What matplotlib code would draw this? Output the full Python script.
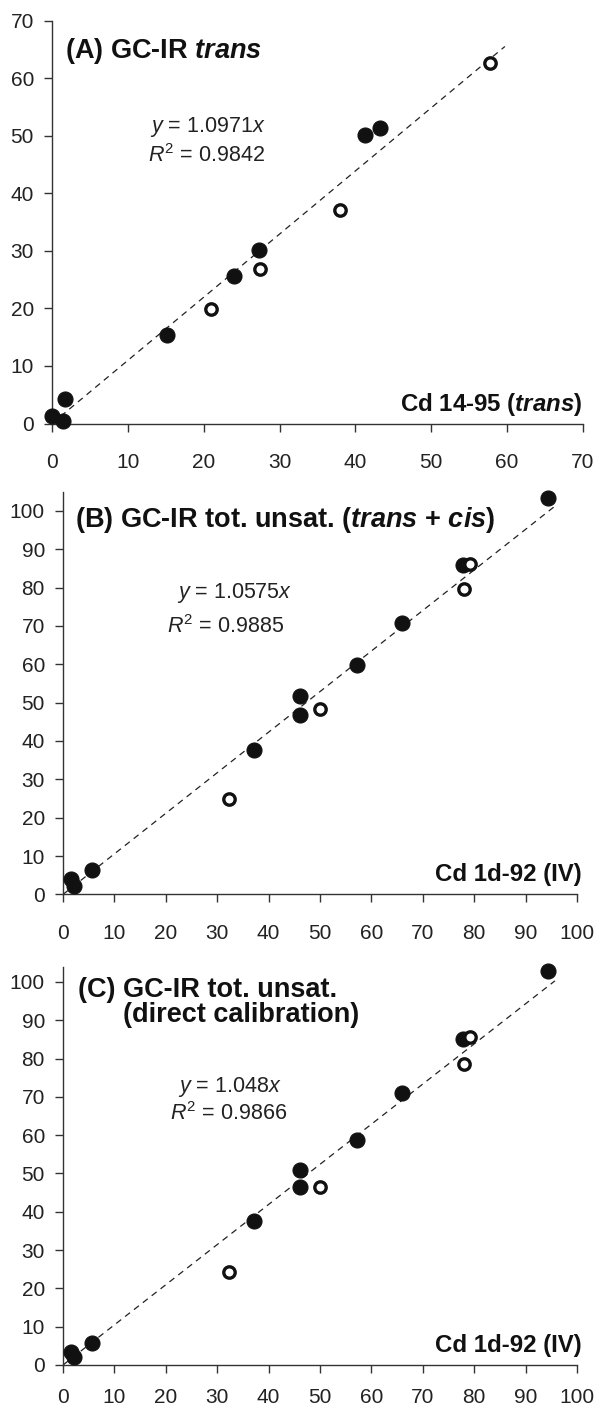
import matplotlib
matplotlib.use("Agg")
from matplotlib import pyplot as plt

plt.rcParams['font.family'] = ['Liberation Sans', 'DejaVu Sans']
plt.rcParams['mathtext.fontset'] = 'custom'
plt.rcParams['mathtext.rm'] = 'Liberation Sans'
plt.rcParams['mathtext.it'] = 'Liberation Sans:italic'
plt.rcParams['mathtext.bf'] = 'Liberation Sans:bold'
plt.rcParams['mathtext.bfit'] = 'Liberation Sans:bold:italic'

# (A) GC-IR trans vs Cd 14-95
a_fill_x = [0.0, 1.5, 1.7, 15.2, 24.0, 27.3, 41.3, 43.3]
a_fill_y = [1.3, 0.5, 4.2, 15.3, 25.6, 30.1, 50.2, 51.4]
a_open_x = [21.0, 27.4, 38.0, 57.7]
a_open_y = [19.9, 26.9, 37.1, 62.6]
a_slope = 1.0971

# (B) GC-IR tot. unsat. vs Cd 1d-92
b_fill_x = [1.5, 2.2, 5.6, 37.1, 46.1, 46.1, 57.2, 65.9, 77.9, 94.3]
b_fill_y = [4.1, 2.2, 6.4, 37.7, 46.9, 51.8, 59.7, 70.8, 85.8, 103.4]
b_open_x = [32.2, 50.0, 78.1, 79.2]
b_open_y = [25.0, 48.3, 79.7, 86.1]
b_slope = 1.0575

# (C) direct calibration
c_fill_x = [1.5, 2.2, 5.6, 37.1, 46.1, 46.1, 57.2, 65.9, 77.9, 94.3]
c_fill_y = [3.5, 2.2, 5.8, 37.5, 46.5, 50.8, 58.8, 70.9, 85.2, 102.9]
c_open_x = [32.2, 50.0, 78.0, 79.2]
c_open_y = [24.4, 46.5, 78.5, 85.7]
c_slope = 1.048

fig = plt.figure(figsize=(5.99, 14.09), dpi=100)


def panel(rect, fx, fy, ox, oy, slope, line_end, xmax, ymax, yticks,
          xpad=16):
    ax = fig.add_axes(rect)
    ax.plot([0, line_end], [0, slope * line_end], color='#222222',
            linestyle=(0, (5, 4)), linewidth=0.9, zorder=1)
    ax.plot(fx, fy, 'o', color='#111111', markersize=10.8,
            markeredgewidth=0.8, zorder=3, clip_on=False)
    ax.plot(ox, oy, 'o', markerfacecolor='white', markeredgecolor='#111111',
            markeredgewidth=2.4, markersize=8.2, zorder=4, clip_on=False)
    ax.set_xlim(0, xmax)
    ax.set_ylim(0, ymax)
    ax.set_xticks(range(0, xmax + 1, 10))
    ax.set_yticks(yticks)
    for s in ['top', 'right']:
        ax.spines[s].set_visible(False)
    for s in ['left', 'bottom']:
        ax.spines[s].set_linewidth(1.0)
        ax.spines[s].set_color('#333333')
    ax.tick_params(axis='x', direction='out', length=5.5, width=1.0,
                   pad=xpad, labelsize=15, colors='#333333',
                   labelcolor='#222222')
    ax.tick_params(axis='y', direction='out', length=5.5, width=1.0,
                   pad=7.5, labelsize=15, colors='#333333',
                   labelcolor='#222222')
    return ax


def title(ax, x, y, s):
    ax.text(x, y, s, transform=ax.transAxes, fontsize=19.5,
            fontweight='bold', va='baseline', ha='left', color='#111111')


def equation(ax, pos1, pos2, eq, r2):
    ax.text(pos1[0], pos1[1], eq, transform=ax.transAxes, fontsize=15.5,
            va='baseline', ha='left', color='#222222')
    ax.text(pos2[0], pos2[1], r2, transform=ax.transAxes, fontsize=15.5,
            va='baseline', ha='left', color='#222222')


def xname(ax, x, y, s):
    ax.text(x, y, s, transform=ax.transAxes, fontsize=17.3,
            fontweight='bold', va='baseline', ha='right', color='#111111')


ax_a = panel([0.0868, 0.6994, 0.8865, 0.2860], a_fill_x, a_fill_y,
             a_open_x, a_open_y, a_slope, 59.7, 70, 70, range(0, 71, 10))
title(ax_a, 0.0245, 0.9062, r'(A) GC-IR $\mathbfit{trans}$')
equation(ax_a, (0.1846, 0.7241), (0.1808, 0.6481),
         r'$\mathit{y}$ = 1.0971$\mathit{x}$', r'$\mathit{R}^2$ = 0.9842')
xname(ax_a, 0.998, 0.0318, r'Cd 14-95 ($\mathbfit{trans}$)')

ax_b = panel([0.1052, 0.3652, 0.8581, 0.2859], b_fill_x, b_fill_y,
             b_open_x, b_open_y, b_slope, 95.8, 100, 105,
             range(0, 101, 10))
title(ax_b, 0.0233, 0.9116,
      r'(B) GC-IR tot. unsat. ($\mathbfit{trans}$ + $\mathbfit{cis}$)')
equation(ax_b, (0.2218, 0.7361), (0.2023, 0.6492),
         r'$\mathit{y}$ = 1.0575$\mathit{x}$', r'$\mathit{R}^2$ = 0.9885')
xname(ax_b, 1.0097, 0.0335, 'Cd 1d-92 (IV)')

ax_c = panel([0.1052, 0.03123, 0.8581, 0.2827], c_fill_x, c_fill_y,
             c_open_x, c_open_y, c_slope, 95.7, 100, 104,
             range(0, 101, 10), xpad=11)
title(ax_c, 0.0298, 0.9247, '(C) GC-IR tot. unsat.')
title(ax_c, 0.1173, 0.8619, '(direct calibration)')
equation(ax_c, (0.2243, 0.6862), (0.2082, 0.6151),
         r'$\mathit{y}$ = 1.048$\mathit{x}$', r'$\mathit{R}^2$ = 0.9866')
xname(ax_c, 1.0097, 0.0334, 'Cd 1d-92 (IV)')

fig.savefig('out.png', dpi=100)
